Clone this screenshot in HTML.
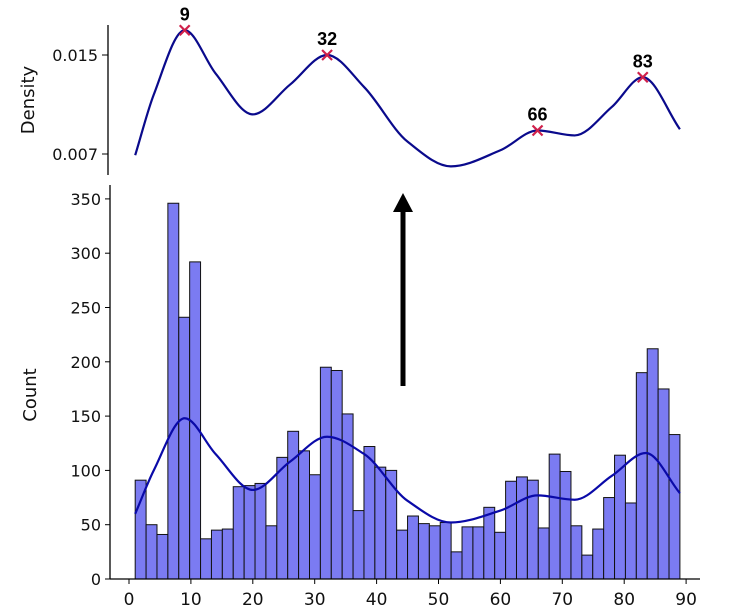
<!DOCTYPE html>
<html><head><meta charset="utf-8"><style>
body{margin:0;background:#fff;}
svg{display:block;font-family:"DejaVu Sans","Liberation Sans",sans-serif;}
</style></head><body>
<svg id="chart" width="744" height="614" viewBox="0 0 744 614" xmlns="http://www.w3.org/2000/svg">
<g id="topPanel"></g>
<g id="botPanel"></g>
</svg>
<script>
const binCounts=[91,50,41,346,241,292,37,45,46,85,86,88,49,112,136,118,96,195,192,152,63,122,103,100,45,58,51,49,52,25,48,48,66,43,90,94,91,47,115,99,49,22,46,75,114,70,190,212,175,133];
const binStart=1, binEnd=89;
const kdeX=[1,4,9,14,20,26,32,38,45,52,60,66,72,78,83.5,89];
const kdeCount=[60,100,148,115,82,108,131,115,72,52,63,77,73,95,116,79];
const densX=[1,4,9,14,20,26,32,38,45,52,60,66,72,78,83,89];
const densVal=[0.0069,0.0118,0.0170,0.0135,0.0102,0.0126,0.0150,0.0124,0.0080,0.0060,0.0073,0.0089,0.0085,0.0108,0.0132,0.0090];
const peakX=[9,32,66,83];
const peakVal=[0.0170,0.0150,0.0089,0.0132];
const xTicks=[0,10,20,30,40,50,60,70,80,90];
const countTicks=[0,50,100,150,200,250,300,350];
const densTicks=[0.007,0.015];

const NS="http://www.w3.org/2000/svg";
const X=v=>129+v*6.19;
const YC=v=>579-v*1.086;
const YD=v=>55+(0.015-v)*12375;
function mk(tag,attrs,parent,text){const e=document.createElementNS(NS,tag);for(const k in attrs)e.setAttribute(k,attrs[k]);if(text!==undefined)e.textContent=text;parent.appendChild(e);return e;}
function smooth(pts){
  const n=pts.length,h=[],s=[],m=[];
  for(let i=0;i<n-1;i++){h[i]=pts[i+1][0]-pts[i][0];s[i]=(pts[i+1][1]-pts[i][1])/h[i];}
  m[0]=s[0];m[n-1]=s[n-2];
  for(let i=1;i<n-1;i++){if(s[i-1]*s[i]<=0)m[i]=0;else{const w1=2*h[i]+h[i-1],w2=h[i]+2*h[i-1];m[i]=(w1+w2)/(w1/s[i-1]+w2/s[i]);}}
  let d=`M${pts[0][0]},${pts[0][1]}`;
  for(let i=0;i<n-1;i++){const p1=pts[i],p2=pts[i+1],dx=h[i]/3;
    d+=` C${p1[0]+dx},${p1[1]+m[i]*dx} ${p2[0]-dx},${p2[1]-m[i+1]*dx} ${p2[0]},${p2[1]}`;}
  return d;}
const topG=document.getElementById('topPanel'),botG=document.getElementById('botPanel');

const bw=(binEnd-binStart)/binCounts.length;
binCounts.forEach((c,i)=>{const x0=X(binStart+i*bw),x1=X(binStart+(i+1)*bw);
const r=mk('rect',{x:x0,y:YC(c),width:x1-x0,height:YC(0)-YC(c),fill:'#7b7bf2',stroke:'#111','stroke-width':1},botG);

});
const kc=mk('path',{d:smooth(kdeX.map((x,i)=>[X(x),YC(kdeCount[i])])),fill:'none',stroke:'#0a0aa8','stroke-width':2.2},botG);


const ya=mk('line',{x1:110,y1:185,x2:110,y2:579,stroke:'#000','stroke-width':1.3},botG);


const xa=mk('line',{x1:110,y1:579,x2:700,y2:579,stroke:'#000','stroke-width':1.3},botG);


countTicks.forEach(t=>{mk('line',{x1:105,y1:YC(t),x2:110,y2:YC(t),stroke:'#000'},botG);
const l=mk('text',{x:101,y:YC(t)+6,'text-anchor':'end','font-size':16,fill:'#111'},botG,String(t));

});
xTicks.forEach(t=>{mk('line',{x1:X(t),y1:579,x2:X(t),y2:584,stroke:'#000'},botG);
const l=mk('text',{x:X(t),y:605,'text-anchor':'middle','font-size':17,fill:'#111'},botG,String(t));

});
const cl=mk('text',{x:0,y:0,transform:'translate(36,395) rotate(-90)','text-anchor':'middle','font-size':18,fill:'#111'},botG,'Count');



const ar=mk('g',{},botG);


mk('line',{x1:403,y1:386,x2:403,y2:210,stroke:'#000','stroke-width':5},ar);
mk('polygon',{points:'393,212 413,212 403,193',fill:'#000'},ar);

const da=mk('line',{x1:108,y1:25,x2:108,y2:175,stroke:'#000','stroke-width':1.3},topG);


densTicks.forEach(t=>{mk('line',{x1:102,y1:YD(t),x2:108,y2:YD(t),stroke:'#000'},topG);
const l=mk('text',{x:98,y:YD(t)+6,'text-anchor':'end','font-size':16,fill:'#111'},topG,String(t));

});
const dl=mk('text',{x:0,y:0,transform:'translate(34,100) rotate(-90)','text-anchor':'middle','font-size':18,fill:'#111'},topG,'Density');


const dc=mk('path',{d:smooth(densX.map((x,i)=>[X(x),YD(densVal[i])])),fill:'none',stroke:'#0a0a8c','stroke-width':2.2},topG);


peakX.forEach((p,i)=>{const cx=X(p),cy=YD(peakVal[i]);
const g=mk('g',{},topG);


mk('path',{d:`M${cx-5},${cy-5}L${cx+5},${cy+5}M${cx-5},${cy+5}L${cx+5},${cy-5}`,stroke:'#d0204a','stroke-width':2.2},g);
const t=mk('text',{x:cx,y:cy-10,'text-anchor':'middle','font-size':18,'font-weight':'bold',fill:'#000',style:'font-family:"Liberation Sans",sans-serif'},topG,String(p));

});
</script>
</body></html>
